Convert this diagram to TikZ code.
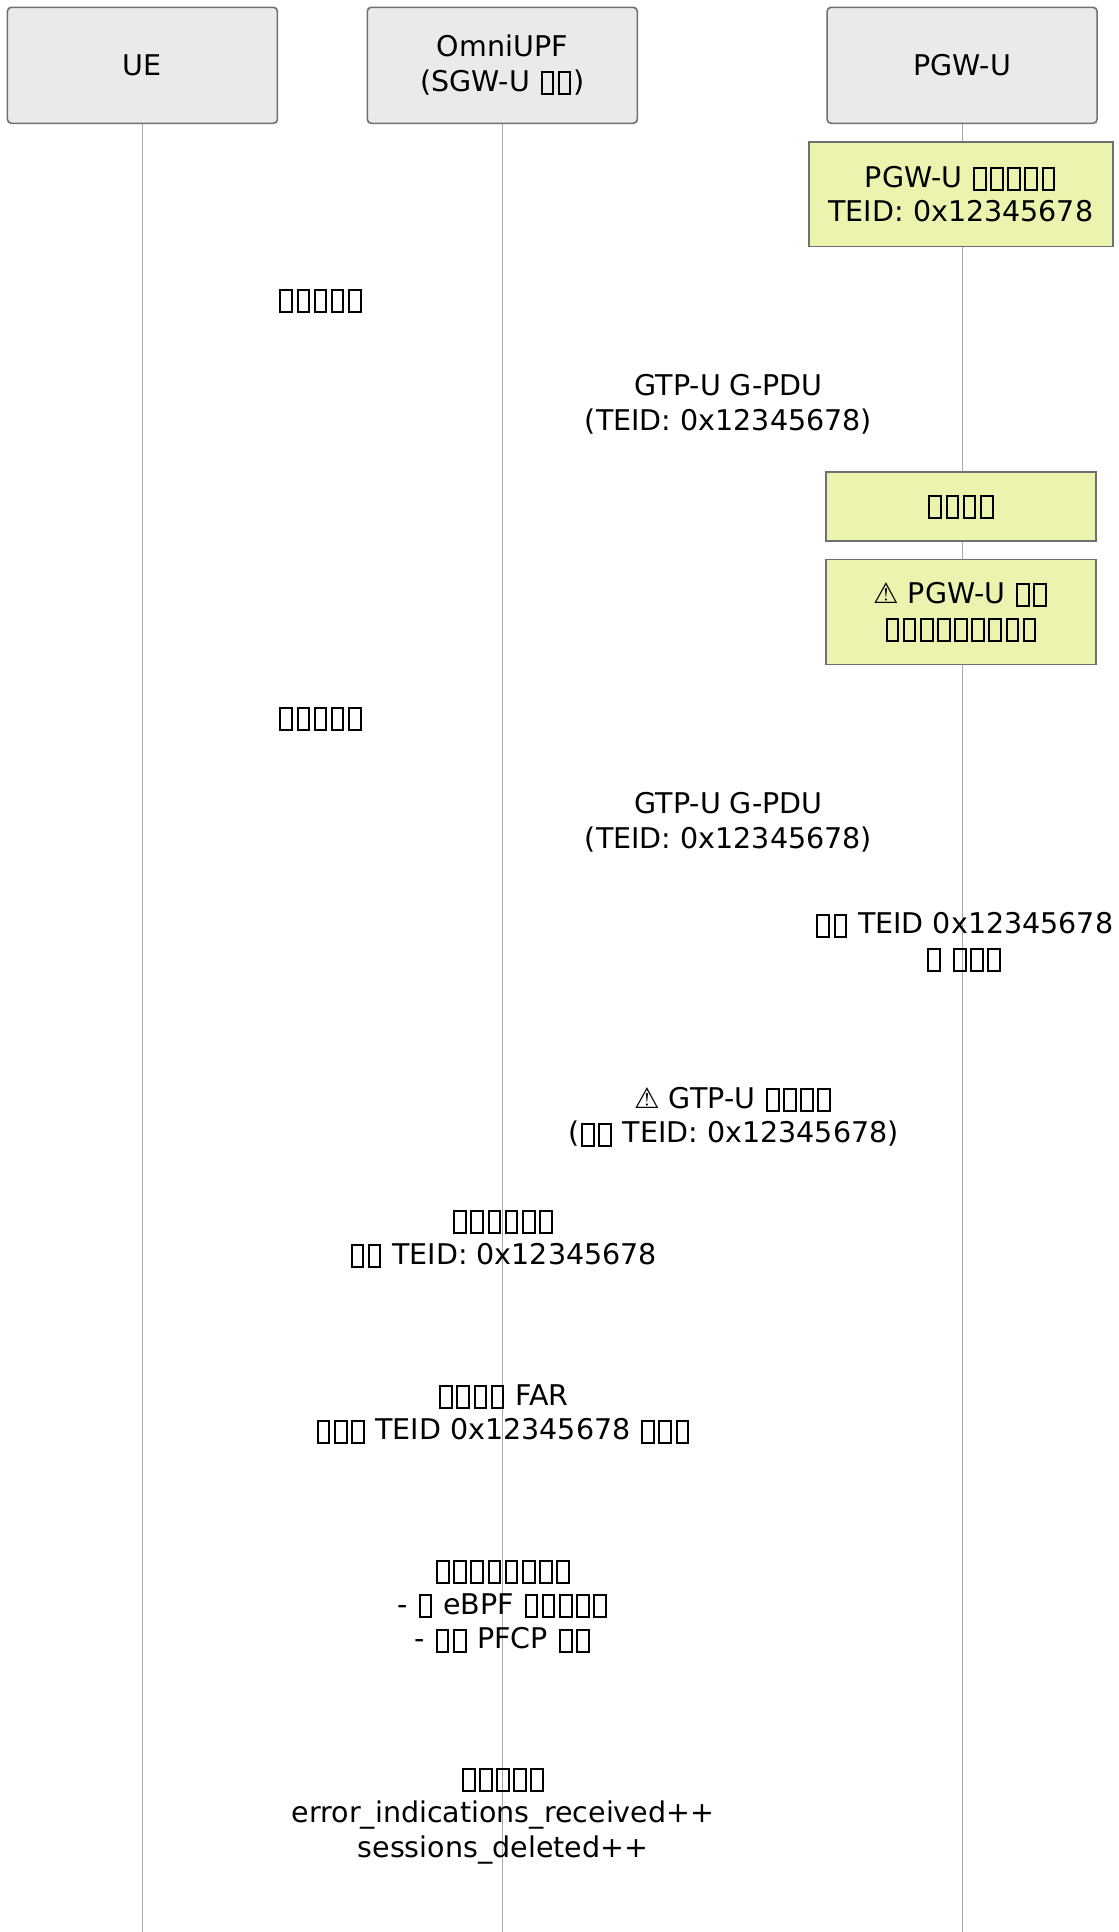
\documentclass[tikz,border=0pt]{standalone}
\usepackage{fontspec}
\setmainfont{DejaVu Sans}
\newcommand\tfb{\kern0.06em\rlap{\vrule width0.48em height0.70em depth-0.63em}\rlap{\vrule width0.48em height-0.07em depth0.14em}\vrule width0.07em height0.70em depth0.14em\kern0.34em\vrule width0.07em height0.70em depth0.14em\kern0.06em}
\definecolor{actorfill}{HTML}{EAEAEA}
\definecolor{boxline}{HTML}{707070}
\definecolor{notefill}{RGB}{236,243,174}
\definecolor{lifeline}{HTML}{A8A8A8}
\begin{document}
\begin{tikzpicture}[x=0.75pt,y=-0.75pt,
  every node/.style={font=\fontsize{21.4pt}{25.9pt}\selectfont, align=center, inner sep=0pt},
  actor/.style={draw=boxline, fill=actorfill, line width=1.2pt, rounded corners=3pt, minimum width=202.5pt, minimum height=87pt},
  notebox/.style={draw=boxline, fill=notefill, line width=1.2pt},
  lline/.style={draw=lifeline, line width=0.8pt},
  msg/.style={}]
\useasboundingbox (0,0) rectangle (1118,1932);
% lifeline anchors
\coordinate (uetop) at (142.4,123.3);
\coordinate (upftop) at (502.3,123.3);
\coordinate (pgwtop) at (962.1,123.3);
\coordinate (ueend) at (142.4,1932);
\coordinate (upfend) at (502.3,1932);
\coordinate (pgwend) at (962.1,1932);
\draw[lline] (uetop) -- (ueend);
\draw[lline] (upftop) -- (upfend);
\draw[lline] (pgwtop) -- (pgwend);
% actors
\node[actor] (ue) at (142.4,65.3) {UE};
\node[actor] (upf) at (502.3,65.3) {OmniUPF\\(SGW-U \tfb\tfb)};
\node[actor] (pgw) at (962.1,65.3) {PGW-U};
% notes
\node[notebox, minimum width=228.3pt, minimum height=78.5pt] (n1) at (960.9,194.2) {PGW-U \tfb\tfb\tfb\tfb\tfb\\TEID: 0x12345678};
\node[notebox, minimum width=202.4pt, minimum height=51.8pt] (n2) at (961,506.6) {\tfb\tfb\tfb\tfb};
\node[notebox, minimum width=202.4pt, minimum height=78.6pt] (n3) at (961,612) {⚠ PGW-U \tfb\tfb\\\tfb\tfb\tfb\tfb\tfb\tfb\tfb\tfb\tfb};
% message labels
\node[msg] (m1) at (320.5,300.8) {\tfb\tfb\tfb\tfb\tfb};
\node[msg] (m2) at (728.5,404.3) {GTP-U G-PDU\\(TEID: 0x12345678)};
\node[msg] (m3) at (320.5,718.7) {\tfb\tfb\tfb\tfb\tfb};
\node[msg] (m4) at (728.5,822.3) {GTP-U G-PDU\\(TEID: 0x12345678)};
\node[msg] (m5) at (964,942.4) {\tfb\tfb{} TEID 0x12345678\\\tfb{} \tfb\tfb\tfb};
\node[msg] (m6) at (733.5,1116.9) {⚠ GTP-U \tfb\tfb\tfb\tfb\\(\tfb\tfb{} TEID: 0x12345678)};
\node[msg] (m7) at (503,1238.9) {\tfb\tfb\tfb\tfb\tfb\tfb\\\tfb\tfb{} TEID: 0x12345678};
\node[msg] (m8) at (503,1414) {\tfb\tfb\tfb\tfb{} FAR\\\tfb\tfb\tfb{} TEID 0x12345678 \tfb\tfb\tfb};
\node[msg] (m9) at (503,1606.2) {\tfb\tfb\tfb\tfb\tfb\tfb\tfb\tfb\\- \tfb{} eBPF \tfb\tfb\tfb\tfb\tfb\\- \tfb\tfb{} PFCP \tfb\tfb};
\node[msg] (m10) at (503,1816.2) {\tfb\tfb\tfb\tfb\tfb\\error\_indications\_received++\\sessions\_deleted++};
\end{tikzpicture}
\end{document}
